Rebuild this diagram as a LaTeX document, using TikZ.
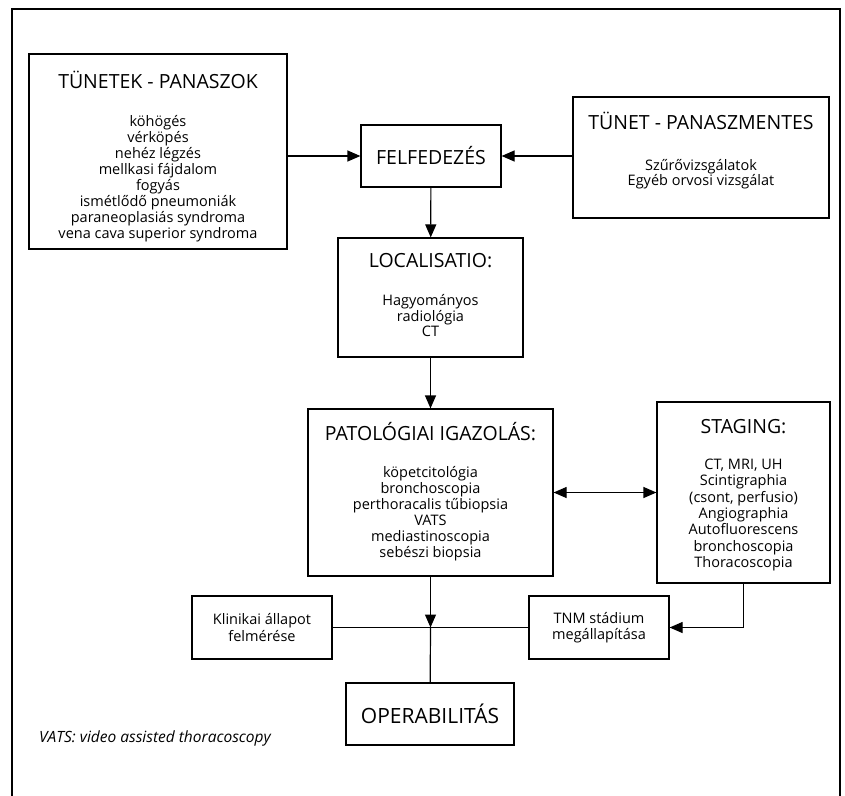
\documentclass[tikz,border=0pt]{standalone}
\usepackage{fontspec}
\setmainfont{Open Sans}
\usetikzlibrary{arrows.meta,calc}

\newcommand{\ttl}[1]{{\fontsize{19.5}{22}\selectfont\rule{0pt}{20pt}#1}}

\begin{document}
\begin{tikzpicture}[x=1pt,y=-1pt,
    box/.style={draw,line width=1.2pt,align=center,inner sep=0pt,
      font=\fontsize{14.5}{16.5}\selectfont},
    txt/.style={align=center,inner sep=0pt,anchor=north,
      font=\fontsize{14.5}{16}\selectfont},
    link/.style={line width=1.2pt},
    arr/.style={link,-{Triangle[length=13pt,width=11pt]}},
    darr/.style={link,{Triangle[length=13pt,width=11pt]}-{Triangle[length=13pt,width=11pt]}}]
  \useasboundingbox (0,0) rectangle (845,795);
  % frame
  \draw[line width=1.2pt] (12,800) -- (12,9) -- (840,9) -- (840,800);
  % top row
  \node[box,minimum width=258pt,minimum height=195pt] (tunetek) at (158,151.5) {};
  \node[txt] (tunetekT) at (158,68)
    {\ttl{TÜNETEK - PANASZOK}\\[22pt]
     köhögés\\vérköpés\\nehéz légzés\\mellkasi fájdalom\\fogyás\\
     ismétlődő pneumoniák\\paraneoplasiás syndroma\\vena cava superior syndroma};
  \node[box,minimum width=140pt,minimum height=62pt,
    font=\fontsize{19.5}{22}\selectfont] (felf) at (431,156) {FELFEDEZÉS};
  \node[box,minimum width=256pt,minimum height=121pt] (mentes) at (701,157.5) {};
  \node[txt,font=\fontsize{14.5}{15}\selectfont] (mentesT) at (701,109)
    {\ttl{TÜNET - PANASZMENTES}\\[26pt]
     Szűrővizsgálatok\\Egyéb orvosi vizsgálat};
  % middle
  \node[box,minimum width=185pt,minimum height=119pt] (local) at (430.5,297.5) {};
  \node[txt,font=\fontsize{14.5}{13.5}\selectfont] (localT) at (430.5,247)
    {\ttl{LOCALISATIO:}\\[25pt]Hagyományos\\radiológia\\CT};
  \node[box,minimum width=245pt,minimum height=167pt] (pat) at (430.5,492.5) {};
  \node[txt] (patT) at (430.5,420)
    {\ttl{PATOLÓGIAI IGAZOLÁS:}\\[21pt]
     köpetcitológia\\bronchoscopia\\perthoracalis tűbiopsia\\VATS\\
     mediastinoscopia\\sebészi biopsia};
  \node[box,minimum width=173pt,minimum height=181pt] (staging) at (743.5,492.5) {};
  \node[txt,font=\fontsize{14.5}{16.3}\selectfont] (stagingT) at (743.5,413)
    {\ttl{STAGING:}\\[20pt]
     CT, MRI, UH\\Scintigraphia\\(csont, perfusio)\\Angiographia\\
     Autofluorescens\\bronchoscopia\\Thoracoscopia};
  % bottom
  \node[box,minimum width=140pt,minimum height=63pt] (klin) at (262,627.5)
    {Klinikai állapot\\felmérése};
  \node[box,minimum width=140pt,minimum height=63pt] (tnm) at (599,627.5)
    {TNM stádium\\megállapítása};
  \node[box,minimum width=168pt,minimum height=62pt,
    font=\fontsize{21}{24}\selectfont] (oper) at (430,714) {OPERABILITÁS};
  \node[anchor=west,inner sep=0pt,font=\fontsize{15.5}{17}\selectfont\itshape] (vats)
    at (39,738) {VATS: video assisted thoracoscopy};

  % connectors
  \draw[arr] (tunetek.east |- felf.west) -- (felf.west);
  \draw[arr] (mentes.west |- felf.east) -- (felf.east);
  \draw[arr] (felf) -- (local);
  \draw[arr] (local) -- (pat);
  \draw[darr] (pat) -- (staging);
  \draw[arr] (staging.south) |- (tnm.east);
  \coordinate (jn) at (pat.south |- tnm.west);
  \draw[arr] (pat) -- (jn);
  \foreach \n in {klin,tnm,oper}
    \draw[link] (jn) -- (\n);
\end{tikzpicture}
\end{document}
